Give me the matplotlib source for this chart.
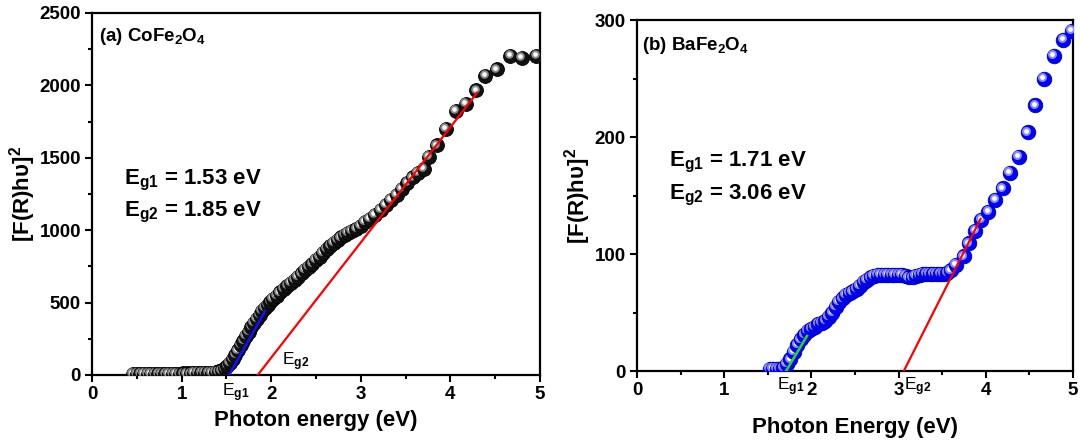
import matplotlib
matplotlib.use("Agg")
import matplotlib.pyplot as plt
import matplotlib.transforms as mtransforms
from matplotlib.ticker import MultipleLocator

plt.rcParams['font.family'] = ['Liberation Sans', 'DejaVu Sans']
plt.rcParams['font.weight'] = 'bold'
plt.rcParams['mathtext.fontset'] = 'custom'
plt.rcParams['mathtext.rm'] = 'Liberation Sans'
plt.rcParams['mathtext.bf'] = 'Liberation Sans:bold'
plt.rcParams['mathtext.it'] = 'Liberation Sans:italic'

# Tauc data, CoFe2O4
co_energy = [0.46, 0.50, 0.54, 0.58, 0.62, 0.66, 0.70, 0.74, 0.78, 0.82, 0.86, 0.90,
             0.94, 0.98, 1.02, 1.06, 1.10, 1.14, 1.18, 1.22, 1.26, 1.30, 1.34, 1.38,
             1.42, 1.45, 1.48, 1.51, 1.54, 1.57, 1.60, 1.63, 1.66, 1.69, 1.72, 1.75,
             1.78, 1.81, 1.84, 1.87, 1.90, 1.93, 1.96, 1.99, 2.02, 2.06, 2.10, 2.14,
             2.18, 2.22, 2.26, 2.30, 2.34, 2.38, 2.42, 2.46, 2.50, 2.54, 2.58, 2.62,
             2.66, 2.70, 2.74, 2.78, 2.82, 2.86, 2.90, 2.95, 3.00, 3.05, 3.10, 3.16,
             3.22, 3.28, 3.34, 3.40, 3.46, 3.52, 3.58, 3.64, 3.70, 3.76, 3.85, 3.95,
             4.06, 4.17, 4.29, 4.39, 4.52, 4.67, 4.80, 4.96]
co_tauc = [10, 10, 10, 10, 10, 10, 10, 10, 10, 10, 10, 10,
           10, 10, 11, 11, 11, 12, 12, 13, 14, 15, 17, 20,
           25, 32, 45, 62, 85, 110, 140, 170, 205, 237, 268, 300,
           330, 358, 390, 415, 440, 462, 485, 505, 525, 548, 570, 592,
           614, 636, 658, 680, 702, 724, 746, 768, 792, 818, 845, 870,
           893, 913, 932, 950, 966, 980, 994, 1010, 1028, 1055, 1080, 1108,
           1140, 1172, 1208, 1245, 1285, 1325, 1365, 1395, 1425, 1505, 1585, 1700,
           1825, 1872, 1965, 2065, 2110, 2205, 2188, 2205]

# Tauc data, BaFe2O4
ba_energy = [1.52, 1.56, 1.60, 1.64, 1.68, 1.72, 1.76, 1.80, 1.84, 1.88, 1.92, 1.96,
             2.00, 2.04, 2.08, 2.12, 2.16, 2.20, 2.24, 2.28, 2.32, 2.36, 2.40, 2.44,
             2.48, 2.52, 2.56, 2.60, 2.64, 2.68, 2.72, 2.76, 2.80, 2.84, 2.88, 2.92,
             2.96, 3.00, 3.04, 3.08, 3.12, 3.16, 3.20, 3.24, 3.28, 3.32, 3.36, 3.40,
             3.44, 3.48, 3.52, 3.56, 3.60, 3.66, 3.75, 3.81, 3.88, 3.95, 4.03, 4.11,
             4.20, 4.28, 4.38, 4.48, 4.57, 4.67, 4.78, 4.89, 4.99]
ba_tauc = [2, 2, 2, 2, 3, 6, 10, 16, 22, 27, 31, 34,
           36, 38, 40, 41, 43, 46, 50, 55, 59, 62, 65, 67,
           68, 70, 73, 76, 78, 80, 81, 82, 82, 82, 82, 82,
           82, 82, 82, 81, 80, 80, 81, 82, 83, 83, 83, 83,
           83, 83, 83, 84, 86, 91, 98, 109, 120, 129, 136, 146,
           156, 169, 183, 204, 227, 250, 269, 283, 291]

# band gaps and linear fits (x, y end points)
co_eg = [1.53, 1.85]
ba_eg = [1.71, 3.06]
co_fit1_x, co_fit1_y = [1.53, 1.93], [0, 440]
co_fit2_x, co_fit2_y = [1.85, 4.30], [0, 1950]
ba_fit1_x, ba_fit1_y = [1.71, 1.95], [0, 30]
ba_fit2_x, ba_fit2_y = [3.06, 3.94], [0, 130]


def balls(ax, x, y, base, edge, mid, s):
    # shaded spheres drawn one by one so each ball covers the one before
    hl = mtransforms.offset_copy(ax.transData, fig=ax.figure, x=-1.3, y=1.3, units='points')
    for i, (xi, yi) in enumerate(zip(x, y)):
        z = 3 + i * 0.003
        ax.scatter([xi], [yi], s=s, c=base, edgecolors=edge, linewidths=0.6, zorder=z)
        ax.scatter([xi], [yi], s=s * 0.38, c=mid, linewidths=0, transform=hl, zorder=z + 0.001)
        ax.scatter([xi], [yi], s=s * 0.11, c='white', linewidths=0, transform=hl, zorder=z + 0.002)


def style(ax):
    for sp in ax.spines.values():
        sp.set_linewidth(1.6)
    ax.tick_params(which='both', direction='out', top=False, right=False, width=1.5)
    ax.tick_params(which='major', length=5, labelsize=13.5, pad=3)
    ax.tick_params(which='minor', length=3)
    for lab in ax.get_xticklabels() + ax.get_yticklabels():
        lab.set_fontweight('bold')


fig = plt.figure(figsize=(10.8, 4.41), dpi=100)

# (a) CoFe2O4
ax1 = fig.add_axes([0.0852, 0.1497, 0.4148, 0.8209])
balls(ax1, co_energy, co_tauc, '#111111', '#000000', '#8a8a8a', 100)
ax1.plot(co_fit1_x, co_fit1_y, color='#1010ff', lw=1.8, zorder=6)
ax1.plot(co_fit2_x, co_fit2_y, color='#ff0000', lw=1.6, zorder=6)
ax1.set_xlim(0, 5)
ax1.set_ylim(0, 2500)
ax1.xaxis.set_major_locator(MultipleLocator(1))
ax1.xaxis.set_minor_locator(MultipleLocator(0.5))
ax1.yaxis.set_major_locator(MultipleLocator(500))
ax1.yaxis.set_minor_locator(MultipleLocator(250))
style(ax1)
ax1.set_xlabel('Photon energy (eV)', fontsize=16, fontweight='bold', labelpad=5)
ax1.set_ylabel(r'[F(R)h$\mathbf{\upsilon}$]$^{\mathbf{2}}$', fontsize=16, fontweight='bold', labelpad=1)
ax1.text(0.08, 2335, r'(a) CoFe$_{\mathbf{2}}$O$_{\mathbf{4}}$', fontsize=13.5, fontweight='bold', va='center')
ax1.text(0.36, 1345, r'E$_{\mathbf{g1}}$ = %.2f eV' % co_eg[0], fontsize=16, fontweight='bold', va='center')
ax1.text(0.36, 1120, r'E$_{\mathbf{g2}}$ = %.2f eV' % co_eg[1], fontsize=16, fontweight='bold', va='center')
ax1.text(1.45, -45, r'E$_{\mathrm{g1}}$', fontsize=12.5, fontweight='normal', va='top')
ax1.text(2.12, 15, r'E$_{\mathrm{g2}}$', fontsize=12.5, fontweight='normal', va='bottom')

# (b) BaFe2O4
ax2 = fig.add_axes([0.5898, 0.1587, 0.4037, 0.7959])
balls(ax2, ba_energy, ba_tauc, '#0000f8', '#0000a8', '#8c8cff', 110)
ax2.plot(ba_fit1_x, ba_fit1_y, color='#22dd22', lw=1.8, zorder=6)
ax2.plot(ba_fit2_x, ba_fit2_y, color='#ff0000', lw=1.6, zorder=6)
ax2.set_xlim(0, 5)
ax2.set_ylim(0, 300)
ax2.xaxis.set_major_locator(MultipleLocator(1))
ax2.xaxis.set_minor_locator(MultipleLocator(0.5))
ax2.yaxis.set_major_locator(MultipleLocator(100))
ax2.yaxis.set_minor_locator(MultipleLocator(50))
style(ax2)
ax2.set_xlabel('Photon Energy (eV)', fontsize=16, fontweight='bold', labelpad=13)
ax2.set_ylabel(r'[F(R)h$\mathbf{\upsilon}$]$^{\mathbf{2}}$', fontsize=16, fontweight='bold', labelpad=1)
ax2.text(0.06, 278, r'(b) BaFe$_{\mathbf{2}}$O$_{\mathbf{4}}$', fontsize=13.5, fontweight='bold', va='center')
ax2.text(0.37, 178, r'E$_{\mathbf{g1}}$ = %.2f eV' % ba_eg[0], fontsize=16, fontweight='bold', va='center')
ax2.text(0.37, 150, r'E$_{\mathbf{g2}}$ = %.2f eV' % ba_eg[1], fontsize=16, fontweight='bold', va='center')
ax2.text(1.61, -4, r'E$_{\mathrm{g1}}$', fontsize=12.5, fontweight='normal', va='top')
ax2.text(3.06, -4, r'E$_{\mathrm{g2}}$', fontsize=12.5, fontweight='normal', va='top')

fig.savefig('out.png', dpi=100)
